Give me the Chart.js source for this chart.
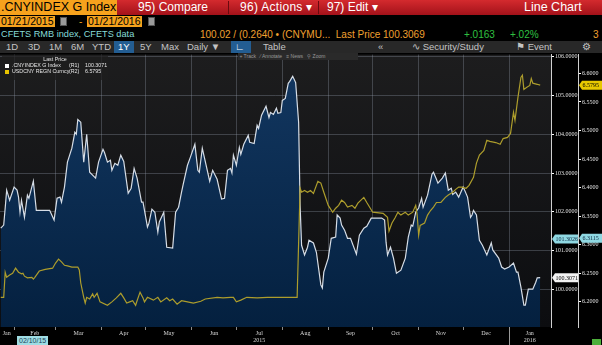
<!DOCTYPE html>
<html>
<head>
<meta charset="utf-8">
<script src="https://cdn.jsdelivr.net/npm/chart.js@4.4.1/dist/chart.umd.min.js"></script>
<style>
  body { margin:0; width:602px; height:345px; background:#000; overflow:hidden; position:relative; font-family:"Liberation Sans", Arial, sans-serif; }
  .abs { position:absolute; white-space:nowrap; }
  #bar1 { left:0; top:0; width:602px; height:15px; background:linear-gradient(#d42a2e,#a3121a); }
  #ticker { left:0; top:0; width:116px; height:15px; background:#f6a21d; color:#000; font-size:12.5px; line-height:15px; padding-left:1px; }
  .menu { top:0; color:#fff; font-size:12px; line-height:15px; }
  .sep { top:1px; width:1px; height:13px; background:#6a0a0e; }
  .date { top:16px; height:11px; background:#f6a21d; color:#000; font-size:10.5px; line-height:11px; padding:0 1px; }
  .cal { top:17px; width:7px; height:9px; background:#9a9a9a; border:1px solid #555; box-sizing:border-box; }
  .row3 { top:29px; font-size:10px; line-height:11px; }
  #bar4 { left:0; top:41px; width:602px; height:12px; background:#282828; }
  .btn { top:41px; height:12px; color:#c4c4c4; font-size:9.5px; line-height:12px; }
  .on { background:#235d92; color:#fff; padding:0 4px; }
  #chartBox { left:0; top:50px; width:602px; height:295px; }
  #legend { left:2px; top:55px; width:106px; height:25px; background:rgba(30,30,30,0.75); color:#e6e6e6; font-size:5.3px; line-height:6px; }
  #legend .sw { display:inline-block; width:4px; height:4px; margin:0 3px 0 3px; vertical-align:middle; }
  #legend .nm { display:inline-block; width:57px; }
  #legend .ax { display:inline-block; width:16px; }
  #tools { left:238px; top:53px; width:120px; height:7px; background:#2a2a2a; color:#9a9a9a; font-size:5px; line-height:7px; }
</style>
</head>
<body>
<div id="bar1" class="abs"></div>
<div id="ticker" class="abs">.CNYINDEX G Index</div>
<div class="abs menu" style="left:138px">95) Compare</div>
<div class="abs sep" style="left:228px"></div>
<div class="abs menu" style="left:240px;letter-spacing:0.3px">96) Actions &#9662;</div>
<div class="abs sep" style="left:318px"></div>
<div class="abs menu" style="left:327px">97) Edit &#9662;</div>
<div class="abs menu" style="left:524px;font-size:12.5px">Line Chart</div>

<div class="abs date" style="left:0">01/21/2015</div>
<div class="abs cal" style="left:60px"></div>
<div class="abs" style="left:79px;top:16px;color:#f6a21d;font-size:10px;line-height:11px">-</div>
<div class="abs date" style="left:87px">01/21/2016</div>
<div class="abs cal" style="left:148px"></div>

<div class="abs row3" style="left:1px;color:#86dcd8;font-size:9.2px">CFETS RMB index, CFETS data</div>
<div class="abs row3" style="left:200px;color:#f0a030">100.02 / (0.2640 &#8226; (CNYMU...&nbsp; Last Price 100.3069</div>
<div class="abs row3" style="left:464px;color:#2fc040">+.0163</div>
<div class="abs row3" style="left:510px;color:#2fc040">+.02%</div>
<div class="abs row3" style="left:593px;color:#f0a030">3</div>

<div id="bar4" class="abs"></div>
<div class="abs btn" style="left:6px">1D</div>
<div class="abs btn" style="left:28px">3D</div>
<div class="abs btn" style="left:49px">1M</div>
<div class="abs btn" style="left:71px">6M</div>
<div class="abs btn" style="left:92px">YTD</div>
<div class="abs btn on" style="left:114px">1Y</div>
<div class="abs btn" style="left:140px">5Y</div>
<div class="abs btn" style="left:161px">Max</div>
<div class="abs btn" style="left:187px">Daily &#9660;</div>
<div class="abs btn on" style="left:231px;width:12px">&#8735;</div>
<div class="abs btn" style="left:263px">Table</div>
<div class="abs btn" style="left:378px">&laquo;</div>
<div class="abs btn" style="left:412px">&#8767; Security/Study</div>
<div class="abs btn" style="left:516px">&#9873; Event</div>
<div class="abs btn" style="left:582px">&#9881;</div>

<div id="chartBox" class="abs"><canvas id="c" width="602" height="295"></canvas></div>

<div id="legend" class="abs">
  <div style="text-align:center;padding-top:1px">Last Price</div>
  <div><span class="sw" style="background:#fff"></span><span class="nm">.CNYINDEX G Index</span><span class="ax">(R1)</span><span id="lgR1"></span></div>
  <div><span class="sw" style="background:#e8c400"></span><span class="nm">USDCNY REGN Curncy</span><span class="ax">(R2)</span><span id="lgR2"></span></div>
</div>
<div id="tools" class="abs">&nbsp;+ Track &nbsp; &#8260; Annotate &nbsp; &#8801; News &nbsp; &#9906; Zoom</div>
<div class="abs" style="left:17px;top:336px;height:9px;background:#9fdde4;color:#1a3d55;font-size:7px;line-height:9px;padding:0 2px">02/10/15</div>
<div class="abs" style="left:592px;top:339px;width:9px;height:6px;background:#4caf3a"></div>

<script>
// days counted from 21 Jan 2015
const cnyDays = [2,4,5,6,8,11,13,14,15,16,18,20,21,24,26,27,35,38,40,42,43,45,47,50,52,53,54,56,58,60,62,66,68,71,72,74,76,77,79,81,83,85,88,90,92,94,97,98,101,102,104,106,108,109,112,114,118,120,122,124,125,128,130,133,135,136,138,140,143,145,148,151,153,155,157,158,159,161,163,164,166,169,170,173,175,176,178,181,183,184,186,188,189,191,192,194,196,197,199,201,203,204,205,207,209,210,213,215,218,219,220,223,225,228,229,231,232,234,236,238,242,244,247,249,252,259,261,262,263,265,267,269,272,275,277,279,280,282,284,286,287,290,293,294,296,297,300,302,304,306,307,309,311,314,315,317,319,320,321,323,325,327,330,333,334,338,340,342,345,348,350,351,353,355,356,357,358,360,361,363,364,366];
const cnyValues = [101.58,101.66,102.10,102.56,102.30,102.64,102.56,102.38,101.99,102.30,101.86,102.43,102.35,102.79,102.04,102.04,102.04,101.79,102.35,102.38,102.25,102.64,103.28,103.64,104.05,104.00,104.38,104.31,103.28,104.00,103.02,102.87,103.28,103.61,103.53,103.28,103.33,103.07,103.25,103.20,103.46,103.30,102.48,102.61,103.12,102.87,102.25,102.25,101.61,101.71,102.07,101.99,101.48,101.74,101.99,101.09,101.07,101.99,102.12,102.51,102.69,103.20,103.41,103.74,103.07,103.02,103.64,103.30,102.79,103.07,102.84,102.33,102.35,103.07,103.12,103.00,103.46,103.20,103.66,103.48,103.74,103.97,103.79,103.76,104.23,104.15,104.49,104.72,104.43,104.56,104.51,104.67,104.54,104.56,104.87,104.92,105.31,105.36,105.49,105.33,104.31,102.17,101.14,100.89,101.09,101.27,101.20,100.96,100.12,100.04,100.45,100.81,101.32,101.35,101.92,101.84,101.66,101.53,101.32,101.32,100.91,101.40,101.58,101.63,101.84,101.84,101.79,101.22,100.89,101.09,100.81,100.42,100.50,100.81,101.35,101.66,101.63,101.99,102.10,102.35,102.12,102.43,102.97,103.02,102.84,102.74,102.87,103.00,102.56,102.61,102.45,102.51,102.38,102.64,102.56,102.38,101.86,101.92,102.04,101.92,101.27,101.14,100.89,101.20,101.02,100.81,100.58,100.53,100.58,100.68,100.45,100.45,100.06,99.60,99.60,99.81,100.01,100.01,100.01,100.19,100.30,100.3071];

const usdDays = [2,4,5,6,8,10,12,14,16,17,18,20,23,24,25,28,32,37,39,41,43,45,47,50,54,55,56,58,59,60,62,64,65,67,69,74,77,80,83,85,87,89,91,93,94,96,98,99,101,105,108,110,114,116,118,121,124,128,132,137,140,148,152,157,159,161,164,168,175,182,201,202,204,205,207,209,211,213,216,218,220,223,226,228,230,232,234,236,239,241,243,247,249,253,260,263,264,266,268,270,272,275,277,280,282,283,284,285,288,290,292,294,296,299,302,304,307,309,311,313,316,318,321,323,325,328,330,332,336,339,341,344,346,348,349,351,353,354,355,357,359,360,361,364,366];
const usdValues = [6.208,6.208,6.252,6.243,6.247,6.250,6.259,6.252,6.249,6.250,6.245,6.242,6.243,6.240,6.243,6.254,6.257,6.259,6.268,6.275,6.270,6.264,6.263,6.261,6.261,6.256,6.233,6.208,6.198,6.208,6.205,6.214,6.208,6.215,6.200,6.194,6.200,6.207,6.215,6.207,6.198,6.200,6.202,6.194,6.202,6.217,6.207,6.200,6.208,6.203,6.208,6.200,6.207,6.202,6.205,6.196,6.202,6.200,6.198,6.201,6.205,6.208,6.207,6.208,6.208,6.200,6.203,6.208,6.207,6.208,6.208,6.208,6.399,6.392,6.395,6.392,6.395,6.390,6.411,6.408,6.392,6.369,6.357,6.364,6.369,6.378,6.374,6.366,6.369,6.364,6.373,6.383,6.374,6.357,6.355,6.348,6.324,6.338,6.347,6.357,6.352,6.357,6.352,6.357,6.369,6.352,6.317,6.334,6.338,6.352,6.360,6.366,6.374,6.374,6.383,6.387,6.392,6.397,6.401,6.401,6.399,6.404,6.418,6.443,6.457,6.465,6.483,6.481,6.479,6.476,6.486,6.488,6.495,6.532,6.518,6.558,6.593,6.597,6.572,6.576,6.579,6.591,6.583,6.581,6.5795];

// month boundaries and where each month name sits
const monthStarts = [11,39,70,100,131,161,192,223,253,284,314,345];
const monthMids = [6,25,54.5,85,115.5,146,176.5,207.5,238,268.5,299,329.5,359];
const monthLabels = ['Jan','Feb','Mar','Apr','May','Jun',['Jul','2015'],'Aug','Sep','Oct','Nov','Dec',['Jan','2016']];
const yearStart = 345;

// crosshair readouts shown on the axes
const cursorR1 = 101.3026;
const cursorR2 = 6.3115;

const lastCny = cnyValues[cnyValues.length - 1];
const lastUsd = usdValues[usdValues.length - 1];
document.getElementById('lgR1').textContent = lastCny.toFixed(4);
document.getElementById('lgR2').textContent = lastUsd.toFixed(4);

const toPoints = (days, vals) => days.map((d, i) => ({ x: d, y: vals[i] }));

const tickFont = { family: '"Liberation Serif", serif', size: 6 };
const gridColor = 'rgba(150,160,175,0.32)';

function fillGradient(ctx) {
    const area = ctx.chart.chartArea;
    if (!area) return '#0a2748';
    const g = ctx.chart.ctx.createLinearGradient(0, area.top, 0, area.bottom);
    g.addColorStop(0, '#133862');
    g.addColorStop(1, '#04203f');
    return g;
}

function drawTag(ctx, scale, value, bg, fg) {
    const y = scale.getPixelForValue(value);
    const x0 = scale.left + 1, x1 = scale.right;
    ctx.fillStyle = bg;
    ctx.beginPath();
    ctx.moveTo(x0, y);
    ctx.lineTo(x0 + 3, y - 4.5);
    ctx.lineTo(x1, y - 4.5);
    ctx.lineTo(x1, y + 4.5);
    ctx.lineTo(x0 + 3, y + 4.5);
    ctx.closePath();
    ctx.fill();
    ctx.fillStyle = fg;
    ctx.font = '6px "Liberation Serif"';
    ctx.textBaseline = 'middle';
    ctx.fillText(value.toFixed(4), x0 + 3.5, y + 0.5);
}

const terminalLook = {
    id: 'terminalLook',
    beforeDraw(chart) {
        const { ctx, chartArea: a } = chart;
        const g = ctx.createLinearGradient(0, a.top, 0, a.bottom);
        g.addColorStop(0, '#1d1d1e');
        g.addColorStop(1, '#0c0d10');
        ctx.save();
        ctx.fillStyle = g;
        ctx.fillRect(a.left, a.top, a.right - a.left, a.bottom - a.top);
        ctx.restore();
    },
    afterDraw(chart) {
        const { ctx, scales } = chart;
        ctx.save();
        // year separator under the axis
        const xs = Math.round(scales.x.getPixelForValue(yearStart)) + 0.5;
        ctx.strokeStyle = '#9a9a9a';
        ctx.lineWidth = 1;
        ctx.beginPath();
        ctx.moveTo(xs, chart.chartArea.bottom);
        ctx.lineTo(xs, chart.height);
        ctx.stroke();
        drawTag(ctx, scales.r1, cursorR1, '#8fd8e2', '#0d2a40');
        drawTag(ctx, scales.r1, lastCny, '#f2f2f2', '#000');
        drawTag(ctx, scales.r2, lastUsd, '#e8c800', '#000');
        drawTag(ctx, scales.r2, cursorR2, '#8fd8e2', '#0d2a40');
        ctx.restore();
    }
};

new Chart(document.getElementById('c'), {
    type: 'line',
    data: {
        datasets: [
            {
                label: '.CNYINDEX G Index',
                data: toPoints(cnyDays, cnyValues),
                yAxisID: 'r1',
                borderColor: '#d6dde6',
                borderWidth: 1.2,
                backgroundColor: fillGradient,
                fill: 'start',
                order: 2
            },
            {
                label: 'USDCNY REGN Curncy',
                data: toPoints(usdDays, usdValues),
                yAxisID: 'r2',
                borderColor: '#ad9d2c',
                borderWidth: 1.2,
                fill: false,
                order: 1
            }
        ]
    },
    options: {
        responsive: false,
        animation: false,
        events: [],
        layout: { padding: 0 },
        elements: { point: { radius: 0 }, line: { tension: 0 } },
        plugins: { legend: { display: false }, tooltip: { enabled: false } },
        scales: {
            x: {
                type: 'linear',
                position: 'bottom',
                min: 1.5,
                max: 373.3,
                weight: 0,
                z: 1,
                afterBuildTicks: axis => { axis.ticks = monthStarts.map(v => ({ value: v })); },
                afterFit: axis => { axis.height = 3; },
                ticks: { display: false },
                grid: { color: gridColor, borderDash: [2, 2], tickColor: '#8a8a8a', tickLength: 3, tickBorderDash: [] },
                border: { display: false }
            },
            months: {
                type: 'linear',
                position: 'bottom',
                min: 1.5,
                max: 373.3,
                weight: 1,
                afterBuildTicks: axis => { axis.ticks = monthMids.map(v => ({ value: v })); },
                afterFit: axis => { axis.height = 15; },
                ticks: {
                    autoSkip: false,
                    maxRotation: 0,
                    padding: 0,
                    color: '#d8d8d8',
                    font: tickFont,
                    callback: (v, i) => monthLabels[i]
                },
                grid: { display: false, drawTicks: false, tickLength: 0 },
                border: { display: false }
            },
            r1: {
                type: 'linear',
                position: 'right',
                min: 99.036,
                max: 106.05,
                weight: 0,
                z: 1,
                afterFit: axis => { axis.width = 27; },
                ticks: {
                    stepSize: 1,
                    includeBounds: false,
                    padding: 1,
                    color: '#e0e0e0',
                    font: tickFont,
                    callback: v => v.toFixed(4)
                },
                grid: { color: gridColor, borderDash: [2, 2], tickColor: '#ffffff', tickLength: 3, tickBorderDash: [] },
                border: { color: '#d0d0d0', width: 1 }
            },
            r2: {
                type: 'linear',
                position: 'right',
                min: 6.156,
                max: 6.633,
                weight: 1,
                afterFit: axis => { axis.width = 24; },
                ticks: {
                    stepSize: 0.05,
                    includeBounds: false,
                    padding: 1,
                    color: '#e0e0e0',
                    font: tickFont,
                    callback: v => v.toFixed(4)
                },
                grid: { drawOnChartArea: false, tickColor: '#ffffff', tickLength: 3 },
                border: { color: '#d0d0d0', width: 1 }
            }
        }
    },
    plugins: [terminalLook]
});
</script>
</body>
</html>
